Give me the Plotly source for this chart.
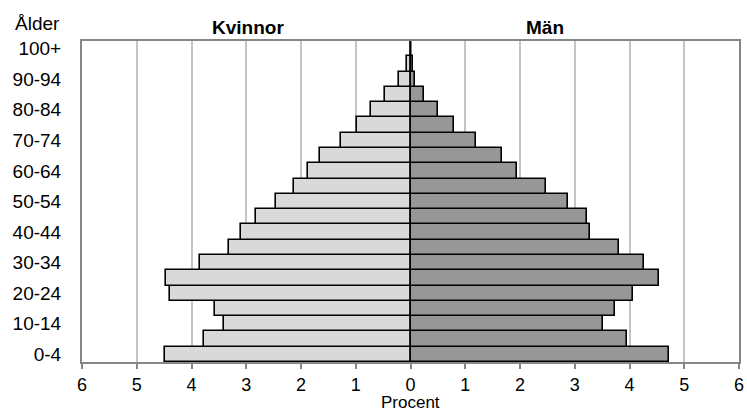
import plotly.graph_objects as go

# Åldersgrupper, nedifrån och upp
ages = ["0-4", "5-9", "10-14", "15-19", "20-24", "25-29", "30-34", "35-39",
        "40-44", "45-49", "50-54", "55-59", "60-64", "65-69", "70-74",
        "75-79", "80-84", "85-89", "90-94", "95-99", "100+"]

# Andel av befolkningen (procent)
kvinnor = [4.49, 3.77, 3.40, 3.57, 4.39, 4.47, 3.84, 3.32, 3.09, 2.83, 2.46,
           2.12, 1.88, 1.65, 1.27, 0.97, 0.73, 0.46, 0.21, 0.06, 0.0]
man = [4.73, 3.96, 3.51, 3.74, 4.07, 4.54, 4.27, 3.80, 3.28, 3.22, 2.87,
       2.47, 1.95, 1.68, 1.19, 0.79, 0.50, 0.24, 0.085, 0.04, 0.0]

x_ticks = [-6, -5, -4, -3, -2, -1, 0, 1, 2, 3, 4, 5, 6]
y_labels = ages[::2]

FONT = "Liberation Sans, Arial, sans-serif"

fig = go.Figure()

fig.add_trace(go.Bar(
    y=ages, x=[-v for v in kvinnor],
    orientation='h',
    name='Kvinnor',
    marker=dict(color='#d9d9d9', line=dict(color='black', width=1.6)),
    customdata=kvinnor,
    hovertemplate="Kvinnor %{y}: %{customdata} %<extra></extra>"
))
fig.add_trace(go.Bar(
    y=ages, x=man,
    orientation='h',
    name='Män',
    marker=dict(color='#979797', line=dict(color='black', width=1.6)),
    hovertemplate="Män %{y}: %{x} %<extra></extra>"
))

W, H = 747, 415
M_L, M_R, M_T, M_B = 82, 8, 41, 53
plot_h = H - M_T - M_B

fig.update_layout(
    width=W, height=H,
    barmode='overlay',
    bargap=0,
    showlegend=False,
    plot_bgcolor='white',
    paper_bgcolor='white',
    font=dict(family=FONT, size=18, color='black'),
    margin=dict(l=M_L, r=M_R, t=M_T, b=M_B, autoexpand=False),
    xaxis=dict(
        range=[-6, 6],
        tickvals=x_ticks,
        ticktext=[str(abs(t)) for t in x_ticks],
        tickfont=dict(size=18),
        ticklabeloverflow='allow',
        showgrid=True, gridcolor='#c4c4c4', gridwidth=1.5,
        zeroline=True, zerolinecolor='#808080', zerolinewidth=2,
        showline=True, linecolor='#868686', linewidth=2, mirror=True,
        ticks='outside', ticklen=5, tickcolor='#868686', tickwidth=1.5,
        automargin=False,
        fixedrange=True,
    ),
    yaxis=dict(
        type='category',
        categoryorder='array', categoryarray=ages,
        tickvals=y_labels, ticktext=y_labels,
        tickfont=dict(size=19),
        showgrid=False,
        showline=True, linecolor='#868686', linewidth=2, mirror=True,
        ticks='', ticklabelstandoff=15,
        range=[-0.5, len(ages) - 0.5],
        automargin=False,
        fixedrange=True,
    ),
    annotations=[
        dict(text='Ålder', xref='paper', yref='paper', x=-0.03, y=1.0,
             xanchor='right', yanchor='middle', yshift=18, showarrow=False,
             font=dict(size=19)),
        dict(text='<b>Kvinnor</b>', xref='x', yref='paper', x=-2.97, y=1.0,
             xanchor='center', yanchor='middle', yshift=14, showarrow=False,
             font=dict(size=19)),
        dict(text='<b>Män</b>', xref='x', yref='paper', x=2.45, y=1.0,
             xanchor='center', yanchor='middle', yshift=14, showarrow=False,
             font=dict(size=19)),
        dict(text='Procent', xref='x', yref='paper', x=0, y=-40 / plot_h,
             xanchor='center', yanchor='middle', showarrow=False,
             font=dict(size=17)),
    ],
)

# drop the default 8px page margin so the figure fills the window exactly
fig.write_html("out.html",
               config={'displayModeBar': False},
               post_script="document.body.style.margin='0';document.body.style.overflow='hidden';")
